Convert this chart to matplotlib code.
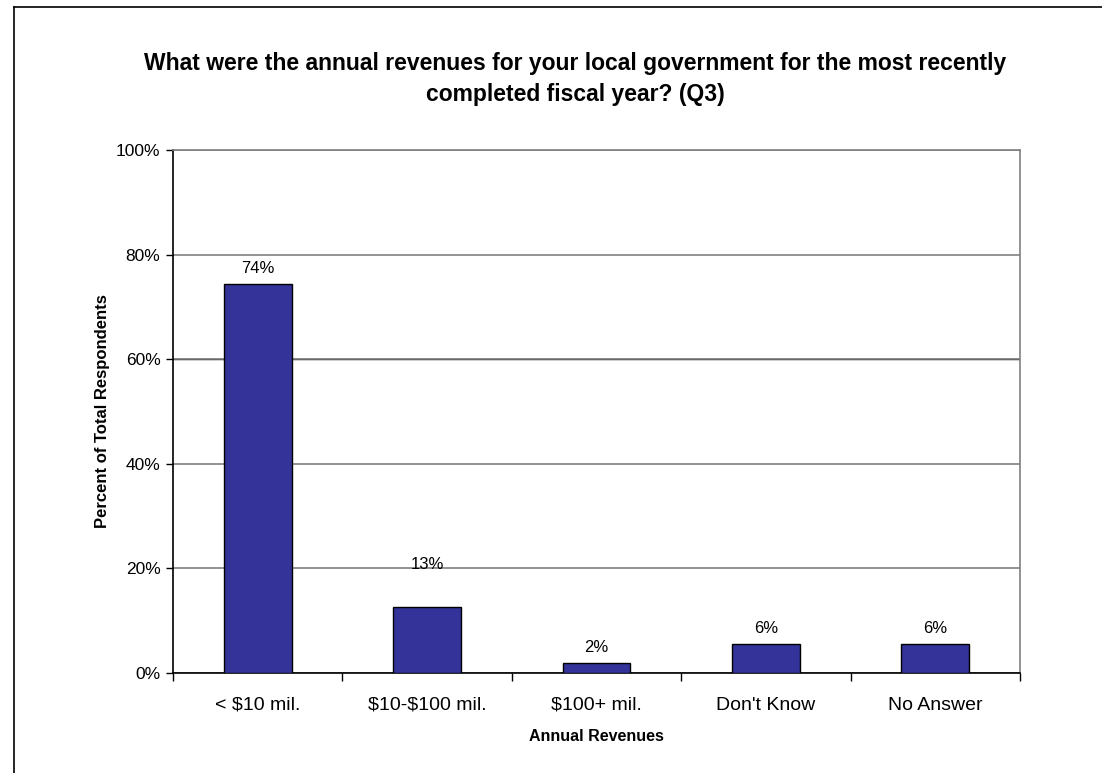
import matplotlib.pyplot as plt
from matplotlib.lines import Line2D
from matplotlib.ticker import FuncFormatter, MultipleLocator

plt.rcParams["font.family"] = ["Liberation Sans", "DejaVu Sans"]

categories = ["< $10 mil.", "$10-$100 mil.", "$100+ mil.", "Don't Know", "No Answer"]
percents = [74.4, 12.6, 1.9, 5.5, 5.5]
labels = ["74%", "13%", "2%", "6%", "6%"]

W, H = 1102, 773
fig = plt.figure(figsize=(W / 100, H / 100), dpi=100)
fig.patch.set_facecolor("white")

# plot area in pixels: left 173, right 1020, top 150, bottom 673
ax = fig.add_axes([173 / W, 1 - 673 / H, (1020 - 173) / W, (673 - 150) / H])

x = list(range(len(categories)))
ax.bar(x, percents, width=0.4, color="#333399", edgecolor="black", linewidth=1.0, zorder=3)

# value labels; the second one sits higher above its bar
for i, (v, lab) in enumerate(zip(percents, labels)):
    offset = 25 if i == 1 else 6
    ax.annotate(lab, (i, v), xytext=(0, offset), textcoords="offset points",
                ha="center", va="bottom", fontsize=12, color="black")

ax.set_xlim(-0.5, len(categories) - 0.5)
ax.set_ylim(0, 100)
ax.yaxis.set_major_locator(MultipleLocator(20))
ax.yaxis.set_major_formatter(FuncFormatter(lambda v, p: f"{v:.0f}%"))
ax.grid(axis="y", color="#808080", linewidth=1.2, zorder=0)
# the 60% line prints darker
ax.axhline(60, color="black", linewidth=1.0, zorder=1)
ax.tick_params(axis="y", direction="out", length=5, width=1, labelsize=12.5, pad=4)

# category labels centred under bars, ticks between categories
ax.set_xticks(x)
ax.set_xticklabels(categories, fontsize=14)
for t in ax.get_xticklabels():
    t.set_parse_math(False)
ax.tick_params(axis="x", length=0, pad=17)
ax.set_xticks([i - 0.5 for i in range(len(categories) + 1)], minor=True)
ax.tick_params(axis="x", which="minor", direction="out", length=6, width=1)

for side in ["left", "bottom"]:
    ax.spines[side].set_color("black")
    ax.spines[side].set_linewidth(1.2)
for side in ["top", "right"]:
    ax.spines[side].set_color("#808080")
    ax.spines[side].set_linewidth(1.2)

ax.set_xlabel("Annual Revenues", fontsize=11.5, fontweight="bold", labelpad=11)
ax.set_ylabel("Percent of Total Respondents", fontsize=12, fontweight="bold", labelpad=4)

fig.text(575 / W, 1 - 79 / H,
         "What were the annual revenues for your local government for the most recently\n"
         "completed fiscal year? (Q3)",
         ha="center", va="center", fontsize=16.5, fontweight="bold", linespacing=1.4)

# chart frame along the left and top edges
fig.add_artist(Line2D([13.5 / W, 13.5 / W], [0, 1 - 7 / H], transform=fig.transFigure,
                      color="black", linewidth=1.2))
fig.add_artist(Line2D([13.5 / W, 1], [1 - 7 / H, 1 - 7 / H], transform=fig.transFigure,
                      color="black", linewidth=1.2))

fig.savefig("out.png", dpi=100)
